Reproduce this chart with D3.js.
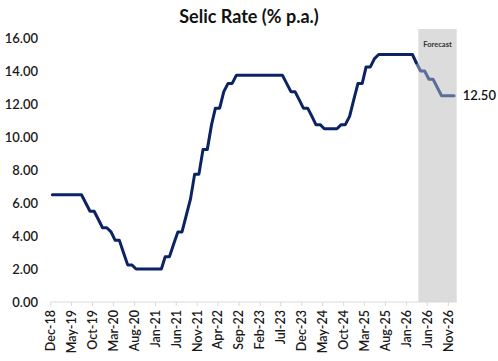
<!DOCTYPE html>
<html>
<head>
<meta charset="utf-8">
<script src="https://cdn.jsdelivr.net/npm/d3@7"></script>
<style>
	body { margin: 0; background: #fff; }
	svg { display: block; font-family: Lato, 'Open Sans', sans-serif; }
</style>
</head>
<body>
<svg id="chart" width="498" height="361"></svg>
<script>
// monthly Selic, first value = Dec-18
const firstMonth = '2018-12'
const actualRates = [
	6.5, 6.5, 6.5, 6.5, 6.5, 6.5, 6.5, 6.5,
	6.0, 5.5, 5.5, 5.0, 4.5, 4.5, 4.25, 3.75, 3.75, 3.0, 2.25, 2.25,
	2.0, 2.0, 2.0, 2.0, 2.0, 2.0, 2.0,
	2.75, 2.75, 3.5, 4.25, 4.25, 5.25, 6.25, 7.75, 7.75, 9.25, 9.25, 10.75, 11.75, 11.75, 12.75, 13.25, 13.25,
	13.75, 13.75, 13.75, 13.75, 13.75, 13.75, 13.75, 13.75, 13.75, 13.75, 13.75, 13.75,
	13.25, 12.75, 12.75, 12.25, 11.75, 11.75, 11.25, 10.75, 10.75,
	10.5, 10.5, 10.5, 10.5,
	10.75, 10.75, 11.25, 12.25, 13.25, 13.25, 14.25, 14.25, 14.75,
	15, 15, 15, 15, 15, 15, 15, 15, 15,
	14.5
]
// forecast starts on the last actual month (Mar-26)
const forecastMonth = '2026-03'
const forecastRates = [14.5, 14, 14, 13.5, 13.5, 13, 12.5, 12.5, 12.5, 12.5]
const forecastBandStart = '2026-03-28'
const axisStart = '2018-12-01'
const axisEnd = '2027-01-01'

const tickLabels = ['Dec-18', 'May-19', 'Oct-19', 'Mar-20', 'Aug-20', 'Jan-21', 'Jun-21', 'Nov-21', 'Apr-22', 'Sep-22',
	'Feb-23', 'Jul-23', 'Dec-23', 'May-24', 'Oct-24', 'Mar-25', 'Aug-25', 'Jan-26', 'Jun-26', 'Nov-26']
const yTicks = [0, 2, 4, 6, 8, 10, 12, 14, 16]
const title = 'Selic Rate (% p.a.)'
const bandLabel = 'Forecast'

const width = 498
const height = 361
const plotLeft = 50.7
const plotRight = 456.7
const plotBottom = 302
const plotTop = 38
const bandTop = 29

const parseMonth = d3.timeParse('%Y-%m')
const parseDay = d3.timeParse('%Y-%m-%d')
const parseTick = d3.timeParse('%b-%y')

// Excel plots each monthly value a little after the month start
const toSeries = (from, vals) => vals.map((v, i) => ({
	date: d3.timeDay.offset(d3.timeMonth.offset(parseMonth(from), i), 12),
	value: v
}))

const actual = toSeries(firstMonth, actualRates)
const forecast = toSeries(forecastMonth, forecastRates)

const svg = d3.select('#chart')

const x = d3.scaleTime()
	.domain([parseDay(axisStart), parseDay(axisEnd)])
	.range([plotLeft, plotRight])

const y = d3.scaleLinear()
	.domain([0, 16])
	.range([plotBottom, plotTop])

const bandX = x(parseDay(forecastBandStart))

// forecast shading
svg.append('rect')
	.attr('x', bandX)
	.attr('y', bandTop)
	.attr('width', plotRight - bandX)
	.attr('height', plotBottom - bandTop)
	.attr('fill', '#dcdcdc')

svg.append('text')
	.attr('x', (bandX + plotRight)/2)
	.attr('y', 47)
	.attr('text-anchor', 'middle')
	.style('font-size', '7.5px')
	.style('font-weight', 700)
	.attr('fill', '#333')
	.text(bandLabel)

svg.append('text')
	.attr('x', width/2)
	.attr('y', 23)
	.attr('text-anchor', 'middle')
	.style('font-size', '18px')
	.style('font-weight', 700)
	.attr('fill', '#111')
	.text(title)

// y labels, no axis line
svg.append('g')
	.selectAll('text')
	.data(yTicks)
	.enter()
	.append('text')
	.attr('x', 38)
	.attr('y', d => y(d))
	.attr('dy', '0.35em')
	.attr('text-anchor', 'end')
	.style('font-size', '13px')
	.style('font-weight', 600)
	.attr('fill', '#1a1a1a')
	.text(d => d.toFixed(2))

// x axis
const xAxis = svg.append('g')

xAxis.append('line')
	.attr('x1', plotLeft)
	.attr('x2', plotRight)
	.attr('y1', plotBottom)
	.attr('y2', plotBottom)
	.attr('stroke', '#d9d9d9')

const ticks = xAxis.selectAll('.tick')
	.data(tickLabels)
	.enter()
	.append('g')
	.attr('class', 'tick')
	.attr('transform', d => `translate(${x(parseTick(d))}, ${plotBottom})`)

ticks.append('line')
	.attr('y2', 4)
	.attr('stroke', '#d9d9d9')

ticks.append('text')
	.attr('transform', 'rotate(-90)')
	.attr('x', -8)
	.attr('dy', '0.35em')
	.attr('text-anchor', 'end')
	.style('font-size', '12.5px')
	.style('font-weight', 600)
	.attr('fill', '#1a1a1a')
	.text(d => d)

const line = d3.line()
	.x(d => x(d.date))
	.y(d => y(d.value))

svg.append('path')
	.datum(forecast)
	.attr('d', line)
	.attr('fill', 'none')
	.attr('stroke', '#5b6e99')
	.attr('stroke-width', 3)
	.attr('stroke-linejoin', 'round')
	.attr('stroke-linecap', 'round')

svg.append('path')
	.datum(actual)
	.attr('d', line)
	.attr('fill', 'none')
	.attr('stroke', '#0b2265')
	.attr('stroke-width', 3)
	.attr('stroke-linejoin', 'round')
	.attr('stroke-linecap', 'round')

const last = forecast[forecast.length - 1]
svg.append('text')
	.attr('x', plotRight + 6)
	.attr('y', y(last.value))
	.attr('dy', '0.35em')
	.style('font-size', '13px')
	.style('font-weight', 600)
	.attr('fill', '#111')
	.text(last.value.toFixed(2))
</script>
</body>
</html>
